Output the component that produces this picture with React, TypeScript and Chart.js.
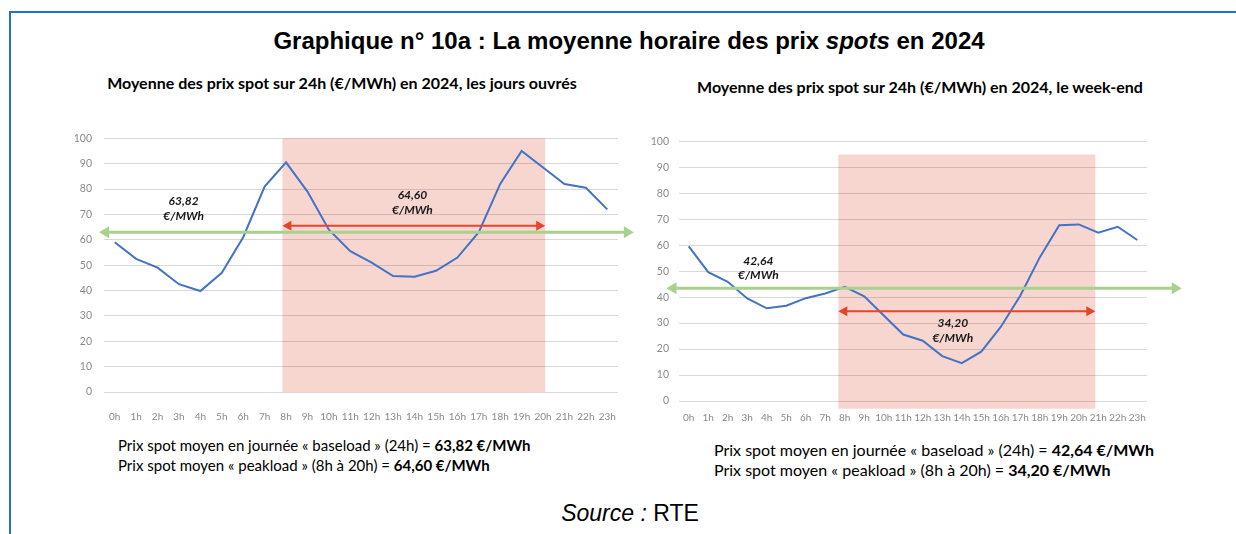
import React, { useEffect, useRef } from "react";
import { Chart, registerables } from "chart.js";

Chart.register(...registerables);

// ---- Data ----
const hours = ["0h","1h","2h","3h","4h","5h","6h","7h","8h","9h","10h","11h","12h","13h","14h","15h","16h","17h","18h","19h","20h","21h","22h","23h"];
const weekdayPrices = [59, 52.5, 49, 42.5, 39.8, 47, 61, 81, 90.5, 79, 64, 55.5, 51, 45.7, 45.4, 47.8, 53, 63, 82, 95, 88.5, 82, 80.5, 72];
const weekendPrices = [59.5, 49.6, 45.9, 39.5, 35.7, 36.7, 39.6, 41.4, 44, 40.3, 32.9, 25.6, 23.2, 17.3, 14.6, 19, 28.5, 40.5, 55.3, 67.7, 68, 64.8, 67.1, 62];
const yTickValues = [0, 10, 20, 30, 40, 50, 60, 70, 80, 90, 100];

const weekdayBaseload = "63,82";
const weekdayPeakload = "64,60";
const weekendBaseload = "42,64";
const weekendPeakload = "34,20";

const FONT = "Lato, 'Open Sans', sans-serif";

type Overlay = {
  shade: [number, number, number, number]; // x0, x1 (index), yLow, yHigh
  green: { y: number; x0: number; x1: number };
  red: { y: number; x0: number; x1: number };
  labels: { x: number; y1: number; y2: number; top: string; bottom: string }[];
};

function arrowLine(ctx: CanvasRenderingContext2D, x1: number, x2: number, y: number, color: string, width: number, hl: number, hw: number) {
  ctx.save();
  ctx.strokeStyle = color;
  ctx.fillStyle = color;
  ctx.lineWidth = width;
  ctx.beginPath();
  ctx.moveTo(x1 + hl - 1, y);
  ctx.lineTo(x2 - hl + 1, y);
  ctx.stroke();
  ctx.beginPath();
  ctx.moveTo(x1, y);
  ctx.lineTo(x1 + hl, y - hw);
  ctx.lineTo(x1 + hl, y + hw);
  ctx.closePath();
  ctx.fill();
  ctx.beginPath();
  ctx.moveTo(x2, y);
  ctx.lineTo(x2 - hl, y - hw);
  ctx.lineTo(x2 - hl, y + hw);
  ctx.closePath();
  ctx.fill();
  ctx.restore();
}

function makeOverlay(o: Overlay) {
  return {
    id: "overlay",
    beforeDraw(chart: any) {
      const { ctx, scales } = chart;
      const xs = scales.x, ys = scales.y;
      const x0 = xs.getPixelForValue(o.shade[0]);
      const x1 = xs.getPixelForValue(o.shade[1]);
      const yl = ys.getPixelForValue(o.shade[2]);
      const yh = ys.getPixelForValue(o.shade[3]);
      ctx.save();
      ctx.fillStyle = "#F8D6D0";
      ctx.fillRect(x0, yh, x1 - x0, yl - yh);
      ctx.restore();
    },
    afterDatasetsDraw(chart: any) {
      const { ctx, scales } = chart;
      const xs = scales.x, ys = scales.y;
      arrowLine(ctx, xs.getPixelForValue(o.green.x0), xs.getPixelForValue(o.green.x1), ys.getPixelForValue(o.green.y), "#A9D18E", 3, 10, 6);
      arrowLine(ctx, xs.getPixelForValue(o.red.x0), xs.getPixelForValue(o.red.x1), ys.getPixelForValue(o.red.y), "#E5452C", 2, 9, 5);
      ctx.save();
      ctx.fillStyle = "#1a1a1a";
      ctx.font = `italic bold 12px ${FONT}`;
      ctx.textAlign = "center";
      ctx.textBaseline = "middle";
      for (const l of o.labels) {
        const x = xs.getPixelForValue(l.x);
        ctx.fillText(l.top, x, ys.getPixelForValue(l.y1));
        ctx.fillText(l.bottom, x, ys.getPixelForValue(l.y2));
      }
      ctx.restore();
    },
  };
}

type Layout = { padTop: number; padRight: number; yWidth: number; xHeight: number; yPad: number; xPad: number };

function makeConfig(values: number[], lay: Layout, overlay: Overlay): any {
  return {
    type: "line",
    data: {
      labels: hours,
      datasets: [{ data: values, borderColor: "#4472C4", borderWidth: 2, pointRadius: 0, tension: 0, fill: false }],
    },
    options: {
      animation: false,
      responsive: false,
      layout: { padding: { left: 0, right: lay.padRight, top: lay.padTop, bottom: 0 } },
      plugins: { legend: { display: false }, tooltip: { enabled: false } },
      scales: {
        x: {
          offset: true,
          grid: { display: false },
          border: { display: false },
          ticks: { autoSkip: false, maxRotation: 0, minRotation: 0, padding: lay.xPad, color: "#8a8a8a", font: { family: FONT, size: 10 } },
          afterFit: (s: any) => { s.height = lay.xHeight; },
        },
        y: {
          min: 0,
          max: 100,
          afterBuildTicks: (s: any) => { s.ticks = yTickValues.map((v) => ({ value: v })); },
          grid: { color: "rgba(0,0,0,0.15)", drawTicks: false, lineWidth: 1 },
          border: { display: false },
          ticks: { padding: lay.yPad, color: "#8a8a8a", font: { family: FONT, size: 10.5 } },
          afterFit: (s: any) => { s.width = lay.yWidth; },
        },
      },
    },
    plugins: [makeOverlay(overlay)],
  };
}

function ChartBox(props: { left: number; top: number; width: number; height: number; config: any }) {
  const ref = useRef<HTMLCanvasElement | null>(null);
  useEffect(() => {
    if (!ref.current) return;
    const c = new Chart(ref.current, props.config);
    return () => c.destroy();
  }, []);
  return (
    <canvas
      ref={ref}
      width={props.width}
      height={props.height}
      style={{ position: "absolute", left: props.left, top: props.top, width: props.width, height: props.height }}
    />
  );
}

const leftConfig = makeConfig(
  weekdayPrices,
  { padTop: 17, padRight: 22, yWidth: 44, xHeight: 38, yPad: 12, xPad: 11 },
  {
    shade: [7.83, 20.1, 0, 100],
    green: { y: 63, x0: -0.73, x1: 24.24 },
    red: { y: 65.5, x0: 7.83, x1: 20.1 },
    labels: [
      { x: 3.22, y1: 75.3, y2: 69.5, top: weekdayBaseload, bottom: "€/MWh" },
      { x: 13.9, y1: 77.7, y2: 71.7, top: weekdayPeakload, bottom: "€/MWh" },
    ],
  }
);

const rightConfig = makeConfig(
  weekendPrices,
  { padTop: 14, padRight: 53, yWidth: 39, xHeight: 24, yPad: 10, xPad: 3 },
  {
    shade: [7.67, 20.85, -3, 94.9],
    green: { y: 43.4, x0: -1.14, x1: 25.28 },
    red: { y: 34.6, x0: 7.67, x1: 20.85 },
    labels: [
      { x: 3.57, y1: 53.8, y2: 48.5, top: weekendBaseload, bottom: "€/MWh" },
      { x: 13.54, y1: 29.9, y2: 24.3, top: weekendPeakload, bottom: "€/MWh" },
    ],
  }
);

function Text(props: { x: number; y: number; size: number; align?: "left" | "center"; family?: string; weight?: string | number; children: any }) {
  const { x, y, size, align = "left", family = FONT, weight = "normal" } = props;
  return (
    <div
      style={{
        position: "absolute",
        left: x,
        top: y - size / 2,
        fontSize: size,
        lineHeight: `${size}px`,
        fontFamily: family,
        fontWeight: weight as any,
        whiteSpace: "nowrap",
        color: "#000",
        transform: align === "center" ? "translateX(-50%)" : undefined,
      }}
    >
      {props.children}
    </div>
  );
}

export default function App() {
  return (
    <div style={{ position: "absolute", left: 0, top: 0, width: 1236, height: 534, background: "#fff", overflow: "hidden" }}>
      <div style={{ position: "absolute", left: 10, top: 11, width: 1226, height: 2, background: "#1F73C4" }} />
      <div style={{ position: "absolute", left: 9, top: 11, width: 2, height: 523, background: "#1F73C4" }} />

      <Text x={629} y={41} size={24} align="center" family="'Liberation Sans', Arial, sans-serif" weight="bold">
        Graphique n° 10a : La moyenne horaire des prix <i>spots</i> en 2024
      </Text>

      <Text x={342} y={83} size={16} align="center" weight="bold">
        Moyenne des prix spot sur 24h (€/MWh) en 2024, les jours ouvrés
      </Text>
      <Text x={920} y={87} size={16} align="center" weight="bold">
        Moyenne des prix spot sur 24h (€/MWh) en 2024, le week-end
      </Text>

      <ChartBox left={60} top={120} width={580} height={310} config={leftConfig} />
      <ChartBox left={640} top={125} width={560} height={300} config={rightConfig} />

      <Text x={118} y={445} size={15}>
        Prix spot moyen en journée « baseload » (24h) = <b>{weekdayBaseload} €/MWh</b>
      </Text>
      <Text x={118} y={465} size={15}>
        Prix spot moyen « peakload » (8h à 20h) = <b>{weekdayPeakload} €/MWh</b>
      </Text>
      <Text x={714} y={450} size={16}>
        Prix spot moyen en journée « baseload » (24h) = <b>{weekendBaseload} €/MWh</b>
      </Text>
      <Text x={714} y={470} size={16}>
        Prix spot moyen « peakload » (8h à 20h) = <b>{weekendPeakload} €/MWh</b>
      </Text>

      <Text x={630} y={513} size={23} align="center" family="'Liberation Sans', Arial, sans-serif">
        <i>Source :</i> RTE
      </Text>
    </div>
  );
}
